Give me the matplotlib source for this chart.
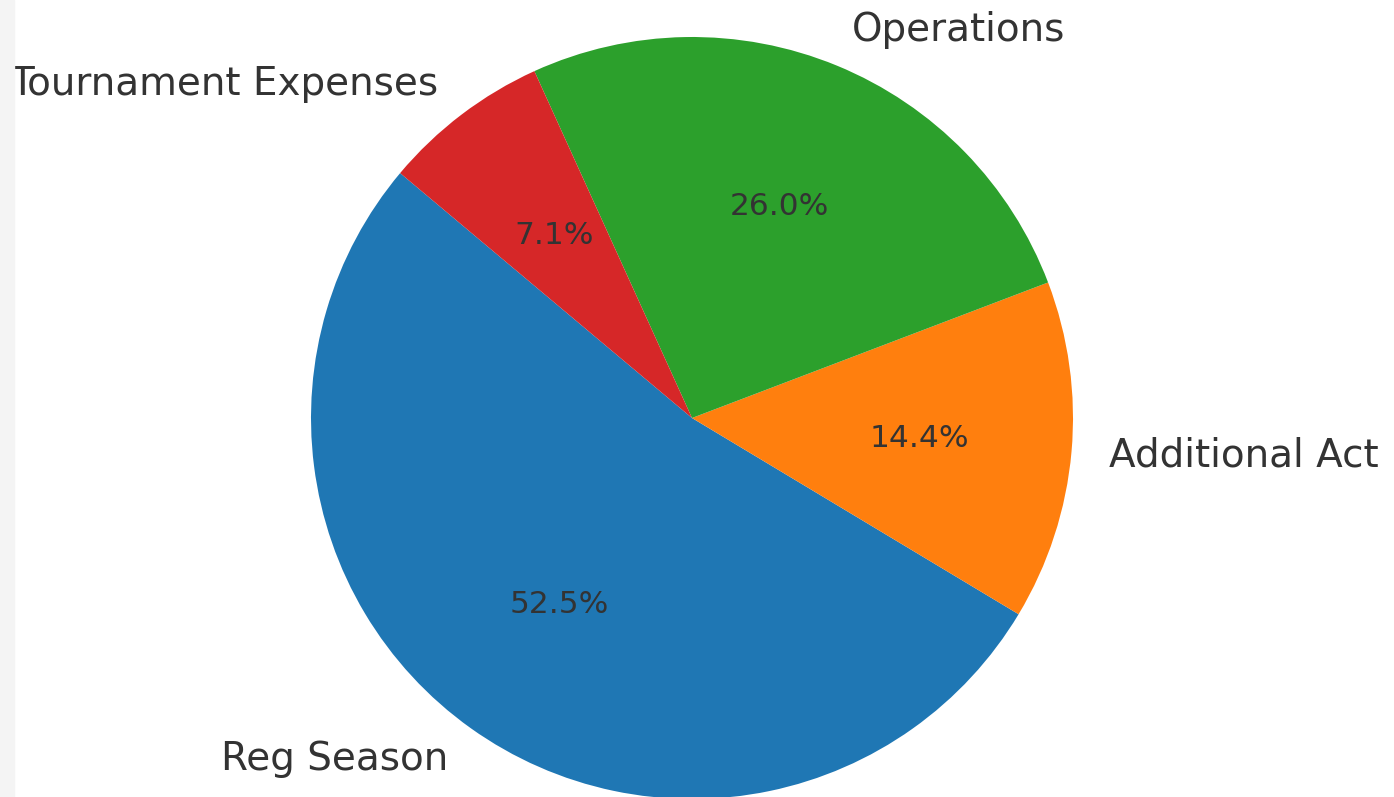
"""Budget share pie chart."""

import matplotlib

matplotlib.use("Agg")
import matplotlib.pyplot as plt
from matplotlib.patches import Rectangle

categories = ["Reg Season", "Additional Act", "Operations", "Tournament Expenses"]
shares = [52.5, 14.4, 26.0, 7.1]
colors = ["#1f77b4", "#ff7f0e", "#2ca02c", "#d62728"]

W, H = 1394, 797
CX, CY, R = 692, 418, 381  # pie centre and radius in pixels

fig = plt.figure(figsize=(W / 100, H / 100), dpi=100)
# faint grey strip on the left edge of the screenshot
fig.patches.append(Rectangle((0, 0), 14 / W, 1, transform=fig.transFigure, color="#f4f4f4", zorder=0))

ax = fig.add_axes([0, 0, 1, 1])
wedges, texts, autotexts = ax.pie(
    shares,
    labels=categories,
    colors=colors,
    startangle=140,
    autopct="%1.1f%%",
    pctdistance=0.6,
    labeldistance=1.1,
    textprops={"color": "#333333"},
)
for t in texts:
    t.set_fontsize(28)
for t in autotexts:
    t.set_fontsize(22.5)

ax.set_xlim(-CX / R, (W - CX) / R)
ax.set_ylim(-(H - CY) / R, CY / R)
ax.set_position([0, 0, 1, 1])
ax.axis("off")

fig.savefig("out.png", dpi=100)
plt.close(fig)
